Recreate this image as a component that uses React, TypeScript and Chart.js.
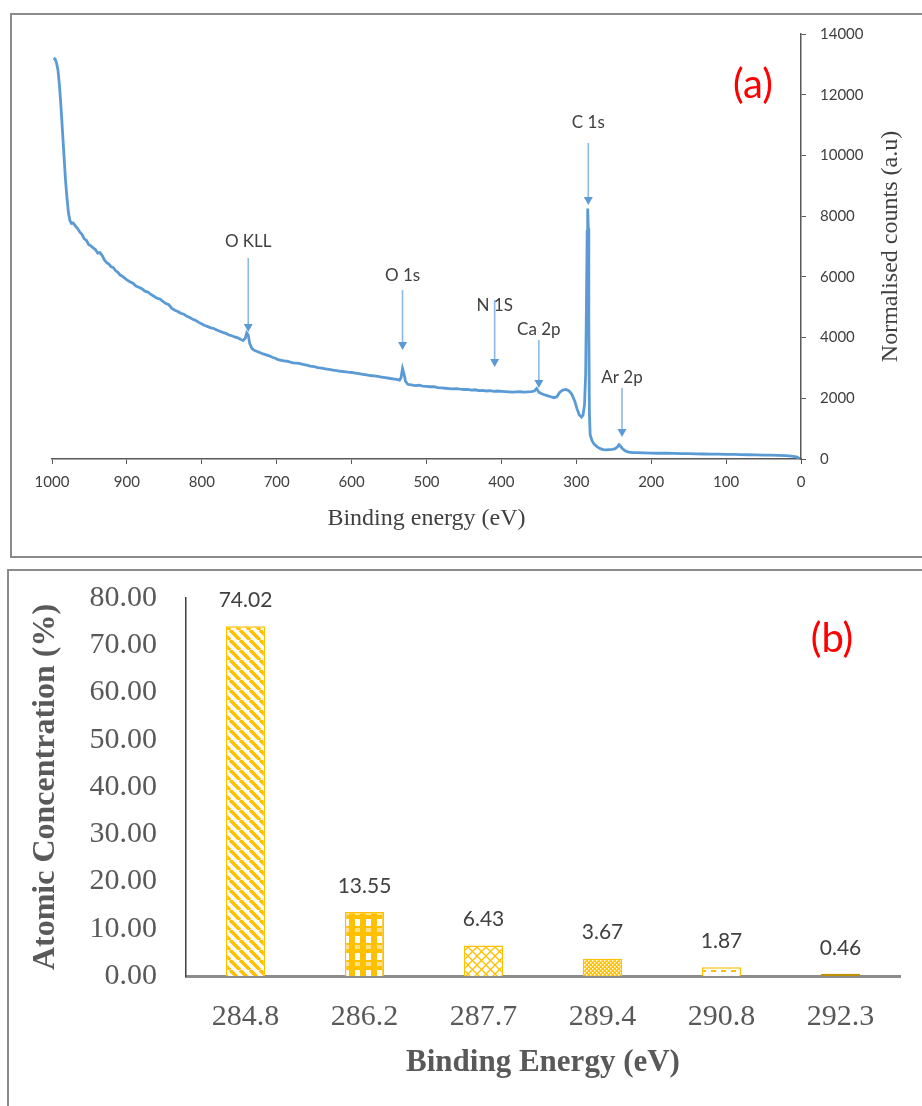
import React, { useEffect, useRef } from "react";
import { Chart, registerables } from "chart.js";
Chart.register(...registerables);

// ---------- Panel (a): XPS survey ----------
const surveyEnergy = [
  998, 996, 994, 992, 990, 988, 986, 984, 982, 980, 978, 976, 974, 972, 970, 968, 966, 963, 960, 957,
  954, 951, 948, 945, 942, 939, 936, 933, 930, 927, 924, 921, 918, 915, 912, 909, 906, 903, 900, 896,
  892, 888, 884, 880, 876, 872, 868, 864, 860, 856, 852, 848, 844, 840, 836, 832, 828, 824, 820, 816,
  812, 808, 804, 800, 796, 792, 788, 784, 780, 776, 772, 768, 764, 760, 756, 752, 748, 745, 742, 740,
  738, 736, 733, 730, 726, 722, 718, 714, 710, 706, 702, 698, 694, 690, 686, 682, 678, 674, 670, 665,
  660, 655, 650, 645, 640, 635, 630, 625, 620, 615, 610, 605, 600, 595, 590, 585, 580, 575, 570, 565,
  560, 555, 550, 545, 540, 536, 534, 532, 530, 528, 525, 520, 515, 510, 505, 500, 495, 490, 485, 480,
  475, 470, 465, 460, 455, 450, 445, 440, 435, 430, 425, 420, 415, 410, 405, 400, 395, 390, 385, 380,
  375, 370, 365, 360, 356, 353, 350, 346, 342, 338, 334, 330, 326, 322, 318, 314, 310, 306, 302, 299,
  296, 293, 291, 289, 287.5, 286.5, 285.5, 284.8, 284, 283.3, 282.5, 281.5, 279, 276, 272, 268, 264, 260, 256, 252,
  248, 245, 243, 241, 238, 234, 230, 225, 220, 210, 200, 190, 180, 170, 160, 150, 140, 130, 120, 110,
  100, 90, 80, 70, 60, 50, 40, 30, 20, 10, 5, 2,
];
const surveyCounts = [
  13200, 13180, 13050, 12800, 12300, 11600, 10800, 10000, 9200, 8600, 8100, 7850, 7760, 7780, 7720, 7650, 7600, 7480, 7400, 7250,
  7200, 7060, 7020, 6950, 6900, 6780, 6800, 6700, 6560, 6470, 6420, 6330, 6300, 6200, 6150, 6060, 6020, 5960, 5900, 5840,
  5790, 5700, 5660, 5610, 5530, 5500, 5420, 5360, 5300, 5270, 5190, 5120, 5080, 4960, 4900, 4860, 4800, 4770, 4700, 4660,
  4600, 4560, 4500, 4450, 4400, 4360, 4320, 4300, 4250, 4210, 4170, 4140, 4090, 4060, 4020, 3990, 3940, 3900, 3980, 4150,
  4080, 3800, 3640, 3580, 3540, 3500, 3460, 3430, 3400, 3350, 3320, 3270, 3250, 3230, 3220, 3190, 3170, 3160, 3150, 3120,
  3090, 3060, 3040, 3010, 2990, 2970, 2950, 2930, 2910, 2890, 2880, 2860, 2850, 2830, 2810, 2790, 2770, 2750, 2740, 2720,
  2700, 2680, 2660, 2640, 2620, 2600, 2680, 2980, 2800, 2560, 2460, 2440, 2420, 2430, 2400, 2390, 2380, 2380, 2350, 2340,
  2330, 2320, 2310, 2320, 2300, 2290, 2290, 2270, 2280, 2250, 2260, 2240, 2250, 2230, 2240, 2230, 2220, 2210, 2200, 2210,
  2220, 2200, 2210, 2220, 2240, 2320, 2200, 2150, 2110, 2080, 2050, 2020, 2050, 2200, 2270, 2290, 2250, 2130, 1900, 1650,
  1450, 1380, 1450, 1800, 2800, 5000, 7500, 8250, 7600, 4500, 1500, 800, 600, 480, 400, 340, 310, 300, 310, 320,
  340, 400, 470, 420, 330, 260, 230, 210, 210, 200, 195, 190, 190, 185, 180, 175, 170, 165, 160, 160,
  155, 150, 145, 140, 135, 130, 125, 120, 110, 90, 60, 20,
];
const xTicksA = [0, 100, 200, 300, 400, 500, 600, 700, 800, 900, 1000];
const yTicksA = [0, 2000, 4000, 6000, 8000, 10000, 12000, 14000];

// peak annotations (data space: energy, arrow start, arrow tip, label level)
const peakLabels = ["O KLL", "O 1s", "N 1S", "Ca 2p", "C 1s", "Ar 2p"];
const peakEnergy = [738, 532, 409, 350, 284, 239];
const arrowStart = [6620, 5570, 5240, 3920, 10410, 2340];
const arrowTip = [4180, 3590, 3030, 2340, 8370, 725];
const labelLevel = [7150, 6060, 5070, 4280, 11100, 2670];

// ---------- Panel (b): atomic concentration ----------
const energyB = ["284.8", "286.2", "287.7", "289.4", "290.8", "292.3"];
const concB = [74.02, 13.55, 6.43, 3.67, 1.87, 0.46];
const yTicksB = [0, 10, 20, 30, 40, 50, 60, 70, 80];

const GOLD = "#FFC000";

function makePattern(kind: string): CanvasPattern | string {
  const t = document.createElement("canvas");
  const c = t.getContext("2d")!;
  if (kind === "stripes") {
    const s = 10;
    t.width = s; t.height = s;
    c.fillStyle = "#fff"; c.fillRect(0, 0, s, s);
    c.strokeStyle = GOLD; c.lineWidth = 3.6;
    for (let k = -1; k <= 1; k++) {
      c.beginPath(); c.moveTo(k * s, 0); c.lineTo(k * s + s, s); c.stroke();
    }
  } else if (kind === "plaid") {
    t.width = 11; t.height = 17;
    c.fillStyle = GOLD; c.fillRect(0, 0, 11, 17);
    c.fillStyle = "#ffffff"; c.fillRect(3, 2, 5, 7);
    c.fillStyle = "#FFE08A"; c.fillRect(3, 11, 5, 4);
  } else if (kind === "cross") {
    const s = 9;
    t.width = s; t.height = s;
    c.fillStyle = "#fff"; c.fillRect(0, 0, s, s);
    c.strokeStyle = GOLD; c.lineWidth = 1.3;
    for (let k = -1; k <= 1; k++) {
      c.beginPath(); c.moveTo(k * s, 0); c.lineTo(k * s + s, s); c.stroke();
      c.beginPath(); c.moveTo(k * s, s); c.lineTo(k * s + s, 0); c.stroke();
    }
  } else if (kind === "checker") {
    t.width = 4; t.height = 4;
    c.fillStyle = GOLD; c.fillRect(0, 0, 4, 4);
    c.fillStyle = "#fff"; c.fillRect(0, 0, 1.5, 1.5); c.fillRect(2, 2, 1.5, 1.5);
  } else if (kind === "dash") {
    t.width = 10; t.height = 6;
    c.fillStyle = "#fff"; c.fillRect(0, 0, 10, 6);
    c.fillStyle = GOLD; c.fillRect(1, 2, 5, 2);
  } else {
    return "#BF9000";
  }
  return c.createPattern(t, "repeat")!;
}

const fixedTicks = (arr: number[]) => (scale: any) => {
  scale.ticks = arr.map((v) => ({ value: v }));
};

export default function App() {
  const refA = useRef<HTMLCanvasElement>(null);
  const refB = useRef<HTMLCanvasElement>(null);

  useEffect(() => {
    const annotate = {
      id: "annotate",
      afterDatasetsDraw(chart: any) {
        const { ctx, scales } = chart;
        const xs = scales.x, ys = scales.y;
        ctx.save();
        peakLabels.forEach((lab, i) => {
          const x = xs.getPixelForValue(peakEnergy[i]);
          const y0 = ys.getPixelForValue(arrowStart[i]);
          const y1 = ys.getPixelForValue(arrowTip[i]);
          const yl = ys.getPixelForValue(labelLevel[i]);
          ctx.strokeStyle = "#8DB8E4";
          ctx.lineWidth = 1.6;
          ctx.beginPath(); ctx.moveTo(x, y0); ctx.lineTo(x, y1 - 7); ctx.stroke();
          ctx.fillStyle = "#5B9BD5";
          ctx.beginPath(); ctx.moveTo(x - 4.5, y1 - 8); ctx.lineTo(x + 4.5, y1 - 8); ctx.lineTo(x, y1); ctx.closePath(); ctx.fill();
          ctx.fillStyle = "#404040";
          ctx.font = "17px Lato";
          ctx.textAlign = "center";
          ctx.textBaseline = "middle";
          ctx.fillText(lab, x, yl);
        });
        // panel tag
        ctx.fillStyle = "#FF0000";
        ctx.font = "40px Lato";
        ctx.textAlign = "center";
        ctx.textBaseline = "middle";
        ctx.fillText("(a)", 753, 85);
        // right-side axis title (reads bottom to top)
        const ca = chart.chartArea;
        ctx.translate(891, (ca.top + ca.bottom) / 2);
        ctx.rotate(-Math.PI / 2);
        ctx.fillStyle = "#404040";
        ctx.font = "24px 'Liberation Serif'";
        ctx.fillText("Normalised counts (a.u)", 0, 0);
        ctx.restore();
      },
    };

    const chartA = new Chart(refA.current!, {
      type: "line",
      data: {
        datasets: [
          {
            data: surveyEnergy.map((e, i) => ({ x: e, y: surveyCounts[i] })),
            borderColor: "#5B9BD5",
            borderWidth: 2.8,
            pointRadius: 0,
            tension: 0,
          },
        ],
      },
      options: {
        animation: false,
        responsive: false,
        layout: { padding: { left: 52, top: 34, right: 0, bottom: 0 } },
        plugins: { legend: { display: false }, tooltip: { enabled: false } },
        scales: {
          x: {
            type: "linear",
            min: 0,
            max: 1000,
            reverse: true,
            position: "bottom",
            afterBuildTicks: fixedTicks(xTicksA),
            afterFit: (s: any) => { s.height = 101; },
            grid: { drawOnChartArea: false, drawTicks: true, tickLength: 5, color: "#595959" },
            border: { display: true, color: "#595959", width: 1.5 },
            ticks: { font: { family: "Lato", size: 15 }, color: "#404040", padding: 9, maxRotation: 0, autoSkip: false, callback: (v: any) => String(v) },
            title: { display: true, text: "Binding energy (eV)", font: { family: "Liberation Serif", size: 24 }, color: "#404040", padding: { top: 0, bottom: 27 } },
          },
          y: {
            type: "linear",
            position: "right",
            min: 0,
            max: 14000,
            afterBuildTicks: fixedTicks(yTicksA),
            afterFit: (s: any) => { s.width = 121; },
            grid: { drawOnChartArea: false, drawTicks: true, tickLength: 5, color: "#595959" },
            border: { display: true, color: "#595959", width: 1.5 },
            ticks: { font: { family: "Lato", size: 15 }, color: "#404040", padding: 14, callback: (v: any) => String(v) },
          },
        },
      },
      plugins: [annotate],
    } as any);

    const barLabels = {
      id: "barLabels",
      afterDatasetsDraw(chart: any) {
        const { ctx } = chart;
        const meta = chart.getDatasetMeta(0);
        ctx.save();
        ctx.fillStyle = "#404040";
        ctx.font = "21px Lato";
        ctx.textAlign = "center";
        ctx.textBaseline = "middle";
        meta.data.forEach((el: any, i: number) => {
          ctx.fillText(concB[i].toFixed(2), el.x, el.y - 26);
        });
        ctx.fillStyle = "#FF0000";
        ctx.font = "40px Lato";
        ctx.fillText("(b)", 832, 79);
        ctx.restore();
      },
    };

    const patterns = ["stripes", "plaid", "cross", "checker", "dash", "solid"].map(makePattern);

    const chartB = new Chart(refB.current!, {
      type: "bar",
      data: {
        labels: energyB,
        datasets: [
          {
            data: concB,
            backgroundColor: patterns,
            borderColor: [GOLD, GOLD, GOLD, GOLD, GOLD, "#BF9000"],
            borderWidth: 1.5,
            barPercentage: 0.33,
            categoryPercentage: 1,
          },
        ],
      },
      options: {
        animation: false,
        responsive: false,
        layout: { padding: { left: 10, top: 38, right: 22, bottom: 0 } },
        plugins: { legend: { display: false }, tooltip: { enabled: false } },
        scales: {
          x: {
            afterFit: (s: any) => { s.height = 130; },
            grid: { display: false, drawTicks: false },
            border: { display: true, color: "#8C8C8C", width: 3 },
            ticks: { font: { family: "Liberation Serif", size: 30 }, color: "#595959", padding: 23 },
            title: { display: true, text: "Binding Energy (eV)", font: { family: "Liberation Serif", size: 31, weight: "bold" }, color: "#595959", padding: { top: 0, bottom: 24 } },
          },
          y: {
            min: 0,
            max: 80,
            afterBuildTicks: fixedTicks(yTicksB),
            afterFit: (s: any) => { s.width = 176; s.paddingTop = 0; s.paddingBottom = 0; },
            grid: { display: false, drawTicks: false },
            border: { display: true, color: "#404040", width: 1.5 },
            ticks: { font: { family: "Liberation Serif", size: 30 }, color: "#595959", padding: 29, callback: (v: any) => Number(v).toFixed(2) },
            title: { display: true, text: "Atomic Concentration (%)", font: { family: "Liberation Serif", size: 32, weight: "bold" }, color: "#595959", padding: { top: 17, bottom: 0 } },
          },
        },
      },
      plugins: [barLabels],
    } as any);

    return () => {
      chartA.destroy();
      chartB.destroy();
    };
  }, []);

  return (
    <div style={{ position: "absolute", left: 0, top: 0, width: 922, height: 1106, overflow: "hidden", background: "#fff" }}>
      <div style={{ position: "absolute", left: 10, top: 13, width: 1000, height: 541, border: "2px solid #8A8A8A" }} />
      <div style={{ position: "absolute", left: 7, top: 569, width: 1000, height: 1000, border: "2px solid #8A8A8A" }} />
      <canvas ref={refA} width={922} height={560} style={{ position: "absolute", left: 0, top: 0, width: 922, height: 560 }} />
      <canvas ref={refB} width={922} height={546} style={{ position: "absolute", left: 0, top: 560, width: 922, height: 546 }} />
    </div>
  );
}
